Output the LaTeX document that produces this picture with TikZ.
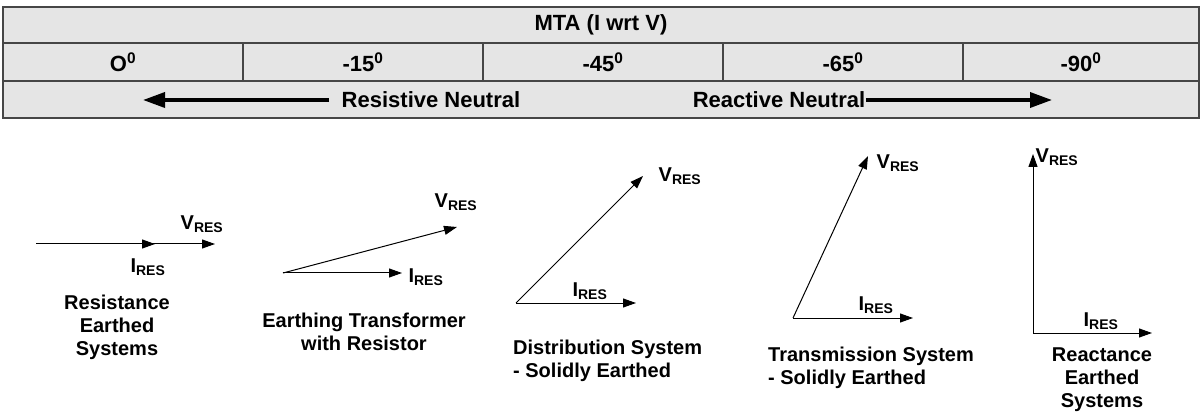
\documentclass[tikz,border=0pt]{standalone}
\usepackage{fontspec}
\setmainfont{Liberation Sans}
\usetikzlibrary{arrows.meta,positioning}
\definecolor{cellgray}{RGB}{229,229,229}
\definecolor{rulegray}{RGB}{70,70,70}
\tikzset{
  cell/.style={draw=rulegray,fill=cellgray,line width=1.2pt,inner sep=0pt,font=\bfseries\fontsize{22}{25}\selectfont},
  vec/.style={-{Triangle[length=13pt,width=9pt]},line width=1pt},
  bigarrow/.style={-{Triangle[length=22pt,width=15pt]},line width=3.5pt},
  lab/.style={font=\bfseries\fontsize{20}{23}\selectfont,inner sep=0pt},
  caption/.style={lab,align=center}
}

\begin{document}
\begin{tikzpicture}[x=1pt,y=-1pt]
     \useasboundingbox (0,0) rectangle (1200,414);

     % table
     \node[cell,minimum width=1196pt,minimum height=36pt] (mta) at (601,25) {MTA (I wrt V)};
     \node[cell,minimum width=240pt,minimum height=38pt] (a0) at (123,62) {O\textsuperscript{0}};
     \node[cell,minimum width=240pt,minimum height=38pt] (a15) at (363,62) {-15\textsuperscript{0}};
     \node[cell,minimum width=240pt,minimum height=38pt] (a45) at (603,62) {-45\textsuperscript{0}};
     \node[cell,minimum width=240pt,minimum height=38pt] (a65) at (843,62) {-65\textsuperscript{0}};
     \node[cell,minimum width=236pt,minimum height=38pt] (a90) at (1081,62) {-90\textsuperscript{0}};
     \node[cell,minimum width=1196pt,minimum height=37pt] (trend) at (601,99.5) {};

     \node[cell,draw=none,fill=none] (resist) at (431,100) {Resistive Neutral};
     \node[cell,draw=none,fill=none] (react) at (779,100) {Reactive Neutral};
     \coordinate (ltip) at (143,100);
     \coordinate (rtip) at (1052,100);
     \draw[bigarrow] ([xshift=-12pt]resist.west) -- (ltip);
     \draw[bigarrow] (react.east) -- (rtip);

     % phasors
     \coordinate (o1) at (36,244);   \coordinate (i1) at (155,244);  \coordinate (v1) at (215,244);
     \coordinate (o2) at (283,273);  \coordinate (i2) at (402,273);  \coordinate (v2) at (457,227);
     \coordinate (o3) at (516,303);  \coordinate (i3) at (636,303);  \coordinate (v3) at (643,176);
     \coordinate (o4) at (793,318);  \coordinate (i4) at (913,318);  \coordinate (v4) at (868,156);
     \coordinate (o5) at (1033,333); \coordinate (i5) at (1152,333); \coordinate (v5) at (1033,154);

     \foreach \n in {1,...,5}{
         \draw[vec] (o\n) -- (v\n);
         \draw[vec] (o\n) -- (i\n);
     }

     \node[lab] (v1lab) at (202,224) {V\textsubscript{RES}};
     \node[lab] (i1lab) at (148,267) {I\textsubscript{RES}};
     \node[lab] (v2lab) at (456,202) {V\textsubscript{RES}};
     \node[lab] (i2lab) at (426,277) {I\textsubscript{RES}};
     \node[lab] (v3lab) at (680,176) {V\textsubscript{RES}};
     \node[lab] (i3lab) at (590,291) {I\textsubscript{RES}};
     \node[lab] (v4lab) at (898,163) {V\textsubscript{RES}};
     \node[lab] (i4lab) at (876,305) {I\textsubscript{RES}};
     \node[lab] (v5lab) at (1057,157) {V\textsubscript{RES}};
     \node[lab] (i5lab) at (1101,321) {I\textsubscript{RES}};

     % captions
     \node[caption] (cap1) at (117,327) {Resistance\\Earthed\\Systems};
     \node[caption] (cap2) at (364,332) {Earthing Transformer\\with Resistor};
     \node[caption,align=left,anchor=west] (cap3) at (513,361) {Distribution System\\- Solidly Earthed};
     \node[caption,align=left,anchor=west] (cap4) at (768,368) {Transmission System\\- Solidly Earthed};
     \node[caption] (cap5) at (1102,380) {Reactance\\Earthed\\Systems};
\end{tikzpicture}
\end{document}
